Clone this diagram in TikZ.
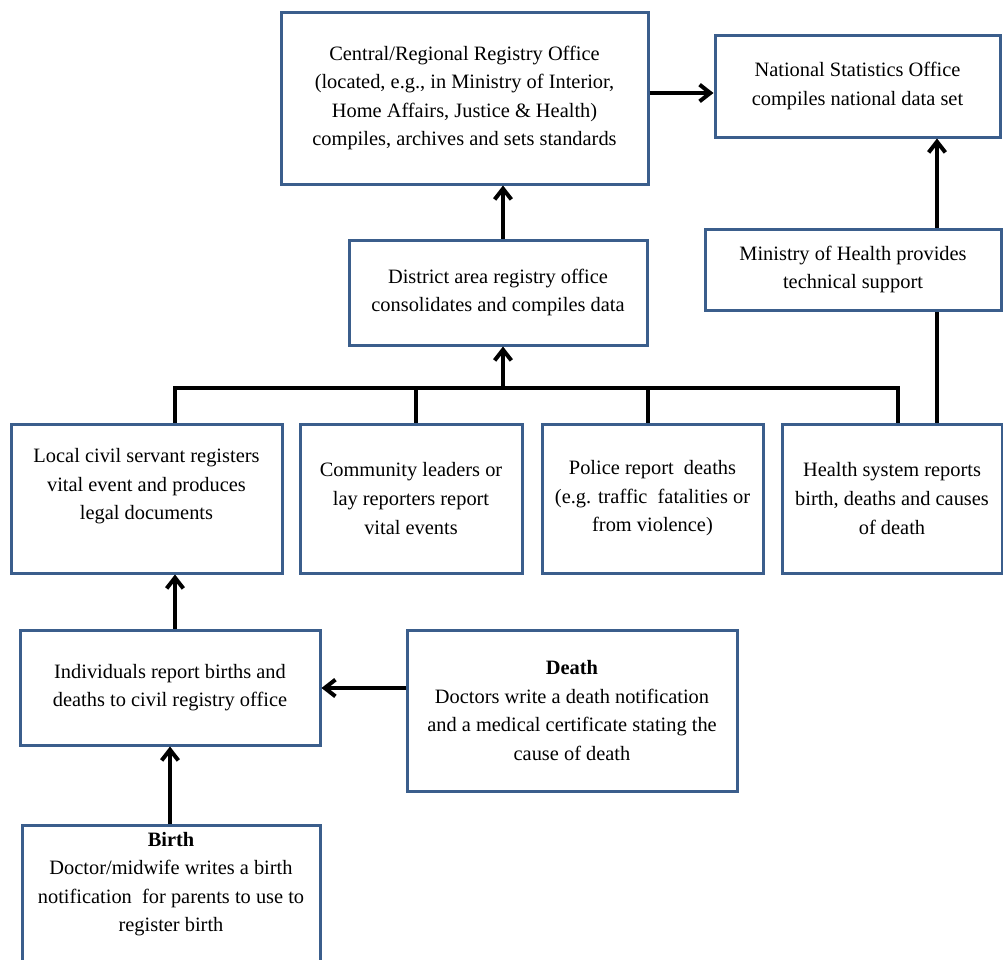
\documentclass[tikz,border=0pt]{standalone}
\usepackage{fontspec}
\setmainfont{Liberation Serif}
\usetikzlibrary{arrows.meta,calc}
\definecolor{boxblue}{RGB}{59,94,140}
\tikzset{
  box/.style={draw=boxblue, line width=2.25pt, fill=white, align=center, inner sep=0pt,
    font=\fontsize{15.3}{21.4}\selectfont},
  arr/.style={line width=3pt, -{Straight Barb[length=8pt,width=12.5pt]}},
  ln/.style={line width=3pt},
}
\begin{document}
\begin{tikzpicture}[x=0.75pt,y=-0.75pt]
\clip (0,0) rectangle (1003,960);
\fill[white] (0,0) rectangle (1003,960);
% boxes
\node[box, minimum width=367*0.75pt, minimum height=172*0.75pt] (central) at (464.5,98)
  {Central/Regional Registry Office\\(located, e.g., in Ministry of Interior,\\Home Affairs, Justice \& Health)\\compiles, archives and sets standards};
\node[box, minimum width=285*0.75pt, minimum height=102*0.75pt] (nso) at (857.5,86)
  {National Statistics Office\\compiles national data set};
\node[box, minimum width=298*0.75pt, minimum height=105*0.75pt] (district) at (498,292.5)
  {District area registry office\\consolidates and compiles data};
\node[box, minimum width=296*0.75pt, minimum height=81*0.75pt] (moh) at (853,269.5)
  {Ministry of Health provides\\technical support};
\node[box, minimum width=271*0.75pt, minimum height=149*0.75pt] (local) at (146.5,498.5)
  {Local civil servant registers\\vital event and produces\\legal documents\\\mbox{}};
\node[box, minimum width=222*0.75pt, minimum height=149*0.75pt] (community) at (411,498.5)
  {Community leaders or\\lay reporters report\\vital events};
\node[box, minimum width=221*0.75pt, minimum height=149*0.75pt] (police) at (652.5,498.5)
  {Police report\ \ deaths\\(e.g. traffic\ \ fatalities or\\from violence)};
\node[box, minimum width=220*0.75pt, minimum height=149*0.75pt] (health) at (892,498.5)
  {Health system reports\\birth, deaths and causes\\of death};
\node[box, minimum width=300*0.75pt, minimum height=115*0.75pt] (indiv) at (170,687.5)
  {Individuals report births and\\deaths to civil registry office};
\node[box, minimum width=330*0.75pt, minimum height=161*0.75pt] (death) at (572,710.5)
  {\textbf{Death}\\Doctors write a death notification\\and a medical certificate stating the\\cause of death};
\node[box, minimum width=298*0.75pt, minimum height=171*0.75pt] (birth) at (171,910.5)
  {\textbf{Birth}\\Doctor/midwife writes a birth\\notification\ \ for parents to use to\\register birth\\\mbox{}\\\mbox{}};
% helper coordinates
\coordinate (yA) at (0,93);
\coordinate (yD) at (0,688);
\coordinate (xDist) at (503,0);
\coordinate (xMoh) at (937,0);
\coordinate (xLoc) at (175,0);
\coordinate (xBirth) at (170,0);
\coordinate (busL) at (175,388);
\coordinate (busC) at (416,388);
\coordinate (busM) at (503,388);
\coordinate (busP) at (648,388);
\coordinate (busR) at (898,388);
% connectors
\draw[arr] (central.east |- yA) -- (nso.west |- yA);
\draw[arr] (district.north -| xDist) -- (central.south -| xDist);
\draw[ln] (local.north -| busL) -- (busL) -- (busR) -- (health.north -| busR);
\draw[ln] (busC) -- (community.north -| busC);
\draw[ln] (busP) -- (police.north -| busP);
\draw[arr] (busM) -- (district.south -| busM);
\draw[ln] (health.north -| xMoh) -- (moh.south -| xMoh);
\draw[arr] (moh.north -| xMoh) -- (nso.south -| xMoh);
\draw[arr] (indiv.north -| xLoc) -- (local.south -| xLoc);
\draw[arr] (birth.north -| xBirth) -- (indiv.south -| xBirth);
\draw[arr] (death.west |- yD) -- (indiv.east |- yD);
\end{tikzpicture}
\end{document}
